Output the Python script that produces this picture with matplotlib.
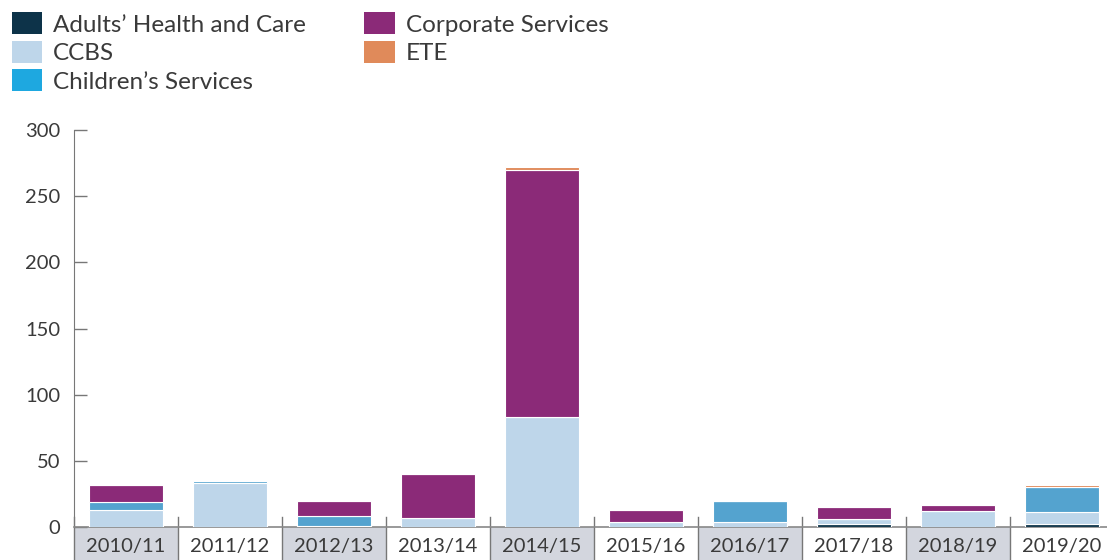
import matplotlib.pyplot as plt
import numpy as np
from matplotlib.patches import Patch, Rectangle
from matplotlib.transforms import blended_transform_factory

plt.rcParams['font.family'] = ['Lato', 'DejaVu Sans']

years = ["2010/11", "2011/12", "2012/13", "2013/14", "2014/15",
         "2015/16", "2016/17", "2017/18", "2018/19", "2019/20"]

adults = [0, 0, 0, 0, 0, 0, 0, 2.3, 0, 2]
ccbs = [13, 33, 0.5, 7, 83, 4, 4, 3.7, 12, 9.3]
children = [6, 1.5, 8, 0, 0, 0, 15.5, 0, 0, 18.7]
corporate = [12.7, 0, 11, 33, 187, 9, 0, 8.9, 5, 0]
ete = [0, 0, 0, 0, 2, 0, 0, 0, 0, 2]

series = [
    ("Adults\u2019 Health and Care", adults, "#0d3349", "#0d3349"),
    ("CCBS", ccbs, "#bed6ea", "#bed6ea"),
    ("Children\u2019s Services", children, "#54a3cf", "#1ea8e0"),
    ("Corporate Services", corporate, "#8b2a78", "#8b2a78"),
    ("ETE", ete, "#e08a5a", "#e08a5a"),
]

text_col = "#3a3a3a"
fig = plt.figure(figsize=(11.07, 5.6), dpi=100)
ax = fig.add_axes([74 / 1107, 1 - 527 / 560, 1 - 74 / 1107, 397 / 560])

x = np.arange(len(years))
bottom = np.zeros(len(years))
for name, vals, col, _ in series:
    vals = np.array(vals, dtype=float)
    ax.bar(x, vals, 0.71, bottom=bottom, color=col, edgecolor="white", linewidth=0.8, zorder=3)
    bottom += vals

ax.set_ylim(0, 300)
ax.set_xlim(-0.5, -0.5 + (1107 - 74) / 104)
ax.set_yticks(range(0, 301, 50))
ax.tick_params(axis="y", direction="in", length=9.5, width=1, color="#777777",
               labelsize=14.5, labelcolor=text_col, pad=10)
ax.set_xticks([])
for s in ["top", "right"]:
    ax.spines[s].set_visible(False)
ax.spines["left"].set_color("#777777")
ax.spines["bottom"].set_color("#888888")
ax.spines["bottom"].set_linewidth(1.2)
ax.spines["left"].set_bounds(0, 300)

# category label cells below the axis
trans = blended_transform_factory(ax.transData, ax.transAxes)
cell_h = 0.12
for i, yr in enumerate(years):
    fc = "#d3d6de" if i % 2 == 0 else "white"
    ax.add_patch(Rectangle((i - 0.5, -cell_h), 1, cell_h, transform=trans,
                           facecolor=fc, edgecolor="none", clip_on=False, zorder=1))
    ax.text(i, -0.049, yr, transform=trans, ha="center", va="center",
            fontsize=14.5, color=text_col)
for i in range(len(years)):
    ax.plot([i - 0.5, i - 0.5], [-cell_h, 0.024], transform=trans, color="#777777",
            linewidth=1, clip_on=False, zorder=2)

handles = [Patch(facecolor=lc, edgecolor="none") for _, _, _, lc in series]
labels = [n for n, _, _, _ in series]
fig.legend(handles, labels, loc="upper left", bbox_to_anchor=(-0.009, 1.017), ncol=2,
           frameon=False, fontsize=17.5, labelcolor=text_col, handlelength=1.25,
           handleheight=1.0, handletextpad=0.45, columnspacing=2.4, labelspacing=0.22)

fig.savefig("out.png", dpi=100)
